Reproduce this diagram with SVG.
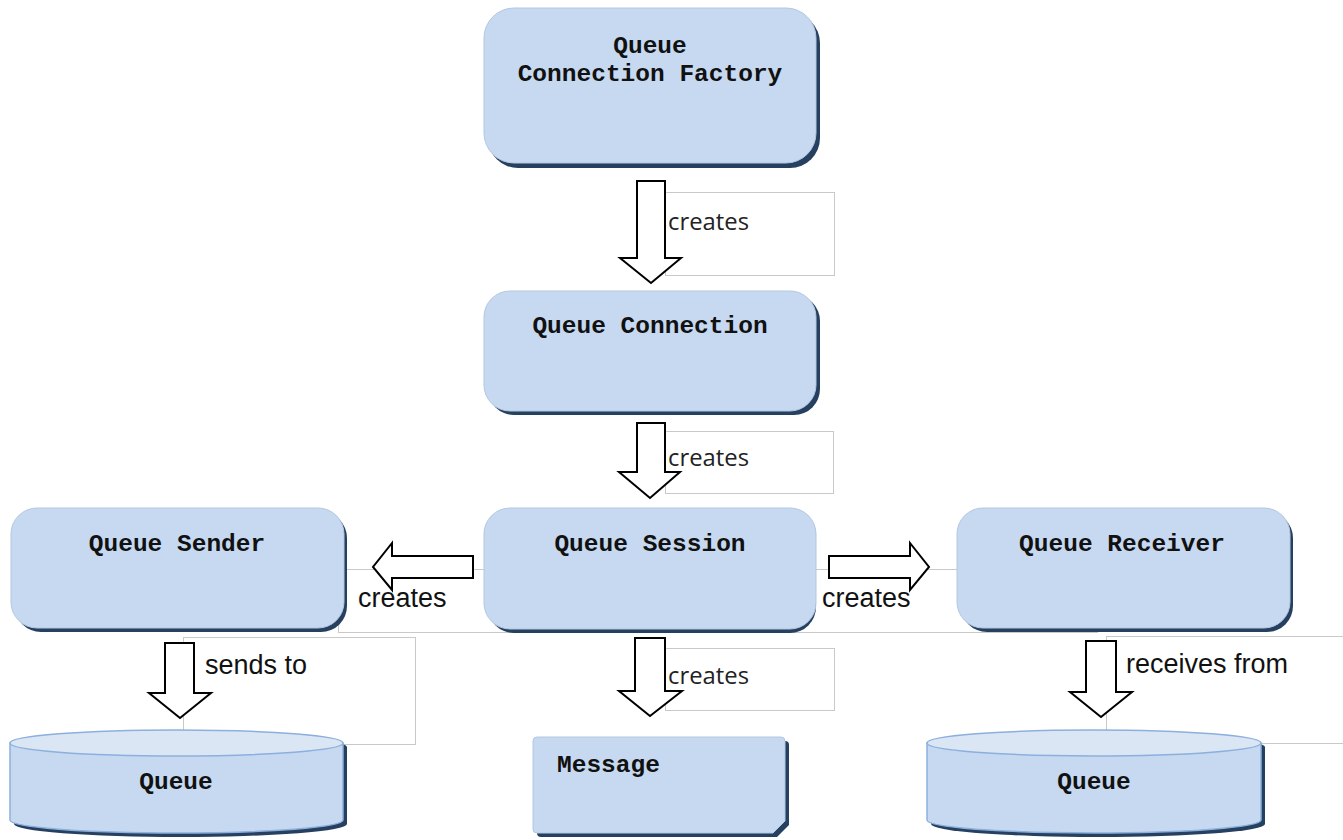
<svg xmlns="http://www.w3.org/2000/svg" width="1343" height="840" viewBox="0 0 1343 840">
<style>
.bg{fill:#ffffff}
.lbl{fill:none;stroke:#c9c9c9;stroke-width:1}
.shadow{fill:#26405f}
.node{fill:#c6d9f0;stroke:#b3c7e2;stroke-width:1}
.top{fill:#dbe6f5;stroke:#8cb0dd;stroke-width:1.5}
.cyl{fill:#c6d9f0;stroke:#8cb0dd;stroke-width:1.5}
.nt{font-family:"Liberation Mono","Courier New",monospace;font-weight:bold;font-size:24.5px;fill:#111111}
.arrow{fill:#ffffff;stroke:#000000;stroke-width:2;stroke-linejoin:miter}
.c1{font-family:"Open Sans","Noto Sans",sans-serif;font-size:23px;fill:#222222}
.c2{font-family:"Liberation Sans",Arial,sans-serif;font-size:27px;fill:#111111}
</style>
<rect class="bg" x="0" y="0" width="1343" height="840"/>

<g id="label-boxes">
<rect class="lbl" x="665.5" y="192.5" width="169" height="83"/>
<rect class="lbl" x="665.5" y="431.5" width="168" height="62"/>
<rect class="lbl" x="665.5" y="648.5" width="169" height="62"/>
<rect class="lbl" x="183.5" y="637.5" width="232" height="107"/>
<rect class="lbl" x="1106.5" y="636.5" width="260" height="107"/>
<rect class="lbl" x="338.5" y="569.5" width="759" height="63"/>
</g>

<g id="n-factory">
<rect class="shadow" x="488" y="13" width="332" height="155" rx="30"/>
<rect class="node" x="484" y="8" width="332" height="155" rx="30"/>
<text class="nt" x="650" y="53" text-anchor="middle">Queue</text>
<text class="nt" x="650" y="81" text-anchor="middle">Connection Factory</text>
</g>

<g id="n-connection">
<rect class="shadow" x="488" y="295" width="332" height="120" rx="26"/>
<rect class="node" x="484" y="291" width="332" height="120" rx="26"/>
<text class="nt" x="650" y="333" text-anchor="middle">Queue Connection</text>
</g>

<g id="n-session">
<rect class="shadow" x="488" y="512" width="328" height="121" rx="26"/>
<rect class="node" x="484" y="508" width="332" height="121" rx="26"/>
<text class="nt" x="650" y="551" text-anchor="middle">Queue Session</text>
</g>

<g id="n-sender">
<rect class="shadow" x="15" y="512" width="332" height="120" rx="26"/>
<rect class="node" x="11" y="508" width="333" height="120" rx="26"/>
<text class="nt" x="177" y="551" text-anchor="middle">Queue Sender</text>
</g>

<g id="n-receiver">
<rect class="shadow" x="961" y="512" width="332" height="120" rx="26"/>
<rect class="node" x="957" y="508" width="333" height="120" rx="26"/>
<text class="nt" x="1122" y="551" text-anchor="middle">Queue Receiver</text>
</g>

<g id="n-queue-left">
<path class="shadow" d="M14,747 A166,13 0 0 1 347,747 L347,824 A166,13 0 0 1 14,824 Z"/>
<path class="cyl" d="M10,743 L10,820 A166.5,13 0 0 0 343,820 L343,743 Z"/>
<ellipse class="top" cx="176.5" cy="743" rx="166.5" ry="13"/>
<text class="nt" x="176" y="789" text-anchor="middle">Queue</text>
</g>

<g id="n-message">
<path class="shadow" d="M541,741 L785,741 Q789,741 789,745 L789,825 L777,837 L541,837 Q537,837 537,833 Z"/>
<path class="node" d="M537,737 L781,737 Q785,737 785,741 L785,821 L773,833 L537,833 Q533,833 533,829 L533,741 Q533,737 537,737 Z"/>
<text class="nt" x="557" y="772">Message</text>
</g>

<g id="n-queue-right">
<path class="shadow" d="M931,747 A167,13 0 0 1 1265,747 L1265,824 A167,13 0 0 1 931,824 Z"/>
<path class="cyl" d="M927,743 L927,820 A167,13 0 0 0 1261,820 L1261,743 Z"/>
<ellipse class="top" cx="1094" cy="743" rx="167" ry="13"/>
<text class="nt" x="1094" y="789" text-anchor="middle">Queue</text>
</g>

<g id="connectors">
<polygon class="arrow" points="637,181 665,181 665,258 681,258 651,283 620,258 637,258"/>
<polygon class="arrow" points="637,423 665,423 665,472 680,472 650,498 619,472 637,472"/>
<polygon class="arrow" points="473,556 473,578 392,578 392,590 373,567 392,543 392,556"/>
<polygon class="arrow" points="829,556 910,556 910,543 929,567 910,590 910,578 829,578"/>
<polygon class="arrow" points="165,643 194,643 194,693 211,693 180,718 149,693 165,693"/>
<polygon class="arrow" points="635,638 665,638 665,691 682,691 650,716 619,691 635,691"/>
<polygon class="arrow" points="1086,641 1116,641 1116,692 1132,692 1101,717 1070,692 1086,692"/>
<text class="c1" x="668" y="230" textLength="81" lengthAdjust="spacingAndGlyphs">creates</text>
<text class="c1" x="668" y="466" textLength="81" lengthAdjust="spacingAndGlyphs">creates</text>
<text class="c1" x="668" y="684" textLength="81" lengthAdjust="spacingAndGlyphs">creates</text>
<text class="c2" x="358" y="607">creates</text>
<text class="c2" x="822" y="607">creates</text>
<text class="c2" x="205" y="674">sends to</text>
<text class="c2" x="1126" y="673">receives from</text>
</g>
</svg>
